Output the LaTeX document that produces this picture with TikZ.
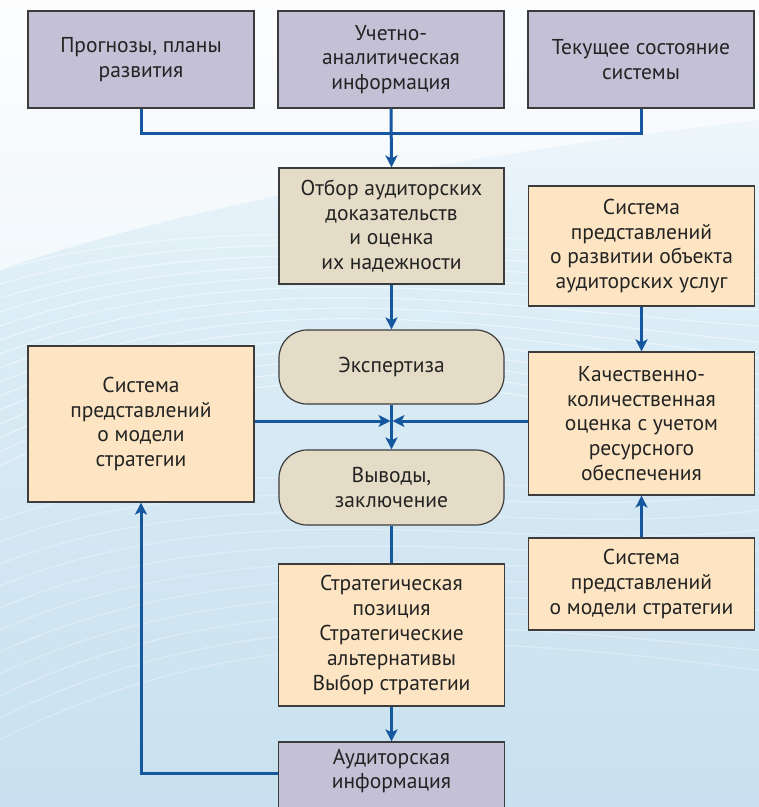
\documentclass[tikz,border=0pt]{standalone}
\usepackage{fontspec}
\setmainfont{PT Sans}
\usetikzlibrary{arrows.meta}

\definecolor{lavender}{RGB}{196,192,214}
\definecolor{sand}{RGB}{228,220,198}
\definecolor{peach}{RGB}{253,229,195}
\definecolor{edge}{RGB}{60,60,60}
\definecolor{flow}{RGB}{22,88,160}
\definecolor{ink}{RGB}{35,35,35}
\definecolor{skyTop}{RGB}{250,252,254}
\definecolor{skyMid}{RGB}{220,237,246}
\definecolor{skyLow}{RGB}{200,224,239}

\tikzset{
  label font/.style={font=\fontsize{21.5}{24.8}\selectfont, text=ink},
  box/.style={draw=edge, line width=1.2pt, align=center, inner sep=0pt, label font},
  infobox/.style={box, fill=lavender, minimum width=226pt},
  sandbox/.style={box, fill=sand, minimum width=225pt},
  pillbox/.style={box, fill=sand, minimum width=225pt, rounded corners=28pt},
  peachbox/.style={box, fill=peach, minimum width=226pt},
  link/.style={draw=flow, line width=3pt},
  arrowlink/.style={link, -{Stealth[length=12pt, width=12pt, inset=3pt]}},
  wave/.style={white, line width=1.2pt, opacity=0.45},
}

\begin{document}
\begin{tikzpicture}[x=1pt, y=-1pt]
  % page frame and sky background
  \useasboundingbox (0,0) rectangle (759,807);
  \begin{scope}
    \clip (0,0) rectangle (759,807);
    \shade[top color=skyTop, bottom color=skyMid] (0,0) rectangle (759,300);
    \shade[top color=skyMid, bottom color=skyLow] (0,300) rectangle (759,807);
    \fill[white, opacity=0.6] (0,150) -- (0,0) -- (759,0) -- (759,120) .. controls (500,150) and (200,200) .. (0,270) -- cycle;
    \foreach \k in {0,...,14}{
      \draw[wave] (0,{270+\k*14}) .. controls (250,{200+\k*10}) and (500,{260+\k*8}) .. (759,{230+\k*16});
    }
    \foreach \k in {0,...,10}{
      \draw[wave, opacity=0.3] (0,{520+\k*22}) .. controls (250,{430+\k*18}) and (520,{520+\k*12}) .. (759,{470+\k*20});
    }

    % top row of sources
    \node[infobox, minimum height=97pt] (prog) at (141,59.5) {Прогнозы, планы\\развития};
    \node[infobox, minimum height=97pt] (acct) at (391,59.5) {Учетно-\\аналитическая\\информация};
    \node[infobox, minimum height=97pt] (curr) at (641,59.5) {Текущее состояние\\системы};

    % central column
    \node[sandbox, minimum height=116pt] (sel) at (391.5,226) {Отбор аудиторских\\доказательств\\и оценка\\их надежности};
    \node[pillbox, minimum height=74pt] (expert) at (391.5,367) {Экспертиза};
    \node[pillbox, minimum height=75pt] (concl) at (391.5,487.5) {Выводы,\\заключение};
    \node[peachbox, minimum height=142pt] (strat) at (391.5,635) {Стратегическая\\позиция\\Стратегические\\альтернативы\\Выбор стратегии};
    \node[infobox, minimum height=73pt] (audit) at (391.5,778.5) {};
    \node[label font, align=center] (audittxt) at (391.5,771) {Аудиторская\\информация};

    % left model box
    \node[peachbox, minimum height=156pt] (model) at (141,424) {Система\\представлений\\о модели\\стратегии};

    % right column
    \node[peachbox, minimum height=120pt] (devel) at (641.5,246) {Система\\представлений\\о развитии объекта\\аудиторских услуг};
    \node[peachbox, minimum height=143pt] (qual) at (641.5,423.5) {Качественно-\\количественная\\оценка с учетом\\ресурсного\\обеспечения};
    \node[peachbox, minimum height=92pt] (smodel) at (641.5,584) {Система\\представлений\\о модели стратегии};

    % collector bus under the top row
    \coordinate (bus) at (391,133);
    \coordinate (hub) at (391.5,421);
    \draw[link] (prog.south) |- (bus);
    \draw[link] (curr.south) |- (bus);
    \draw[arrowlink] (acct.south) -- (sel.north);

    % central flow
    \draw[arrowlink] (sel.south) -- (expert.north);
    \draw[arrowlink] (expert.south) -- (concl.north);
    \draw[arrowlink, shorten >=1pt] (model.east |- hub) -- (hub);
    \draw[arrowlink, shorten >=1pt] (qual.west |- hub) -- (hub);
    \draw[link] (concl.south) -- (strat.north);
    \draw[arrowlink] (strat.south) -- (audit.north);

    % feedback loop to the model box
    \coordinate (turn) at (141,773);
    \draw[arrowlink] (audit.west |- turn) -- (turn) -- (model.south);

    % right column links
    \draw[arrowlink] (devel.south) -- (qual.north);
    \draw[arrowlink] (smodel.north) -- (qual.south);
  \end{scope}
\end{tikzpicture}
\end{document}
